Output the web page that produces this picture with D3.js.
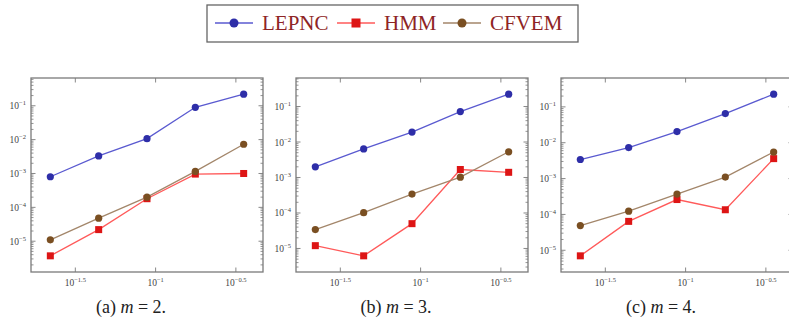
<!DOCTYPE html>
<html>
  <head>
    <meta charset="utf-8">
    <title>Convergence</title>
    <style>
      body { margin: 0; background: #fff; }
      text { font-family: "Liberation Serif", "DejaVu Serif", serif; }
    </style>
  </head>
  <body>
    <svg class="chart"></svg>
    <script src="https://cdn.jsdelivr.net/npm/d3@7"></script>
    <script>

// mesh sizes h (x axis, shared by all panels)
var hValues = [0.0221, 0.0442, 0.0884, 0.1768, 0.3536]

var methods = ["LEPNC", "HMM", "CFVEM"]

// errors, panel (a) m = 2
var lepncM2 = [8.0e-4, 3.3e-3, 1.07e-2, 9.0e-2, 2.2e-1]
var hmmM2   = [3.7e-6, 2.2e-5, 1.8e-4, 9.6e-4, 1.0e-3]
var cfvemM2 = [1.1e-5, 4.8e-5, 2.0e-4, 1.15e-3, 7.3e-3]

// panel (b) m = 3
var lepncM3 = [2.0e-3, 6.4e-3, 1.9e-2, 7.2e-2, 2.23e-1]
var hmmM3   = [1.2e-5, 6.2e-6, 5.0e-5, 1.68e-3, 1.4e-3]
var cfvemM3 = [3.4e-5, 1.02e-4, 3.4e-4, 1.02e-3, 5.3e-3]

// panel (c) m = 4
var lepncM4 = [3.4e-3, 7.3e-3, 2.05e-2, 6.5e-2, 2.26e-1]
var hmmM4   = [7.0e-6, 6.4e-5, 2.6e-4, 1.35e-4, 3.6e-3]
var cfvemM4 = [4.9e-5, 1.23e-4, 3.7e-4, 1.1e-3, 5.5e-3]

var panelLetters = ["(a)", "(b)", "(c)"]
var mValues = [2, 3, 4]

// tick exponents
var xTickExps = [-1.5, -1, -0.5]
var yTickExps = [-5, -4, -3, -2, -1]

var panels = [
    [lepncM2, hmmM2, cfvemM2],
    [lepncM3, hmmM3, cfvemM3],
    [lepncM4, hmmM4, cfvemM4]
]

var width = 789
var height = 329
var lineColors = ["#5a5ad0", "#ff5a5a", "#a3866a"]
var markColors = ["#2e2ea8", "#dd1515", "#7a4f22"]
var axisColor = "#7a7a7a"
var textColor = "#444"

var svg = d3.select(".chart")
    .attr("width", width)
    .attr("height", height)

var panelLeft = [31, 296, 561]
var panelWidth = 232
var plotTop = 78, plotBottom = 272

// pgfplots style: enlarge log range by 10% each side
function enlarged(vals) {
    var lo = Math.log10(d3.min(vals)), hi = Math.log10(d3.max(vals))
    var pad = (hi - lo) * 0.1
    return [Math.pow(10, lo - pad), Math.pow(10, hi + pad)]
}

function powLabel(sel, e) {
    sel.append("tspan").text("10")
    sel.append("tspan")
        .attr("dy", -4)
        .attr("font-size", 6.5)
        .text("\u2212" + Math.abs(e))
}

panels.forEach(function(series, p) {
    var x0 = panelLeft[p], x1 = x0 + panelWidth
    var allY = [].concat.apply([], series)

    var x = d3.scaleLog().domain(enlarged(hValues)).range([x0, x1])
    var y = d3.scaleLog().domain(enlarged(allY)).range([plotBottom, plotTop])

    var g = svg.append("g")

    // minor y ticks (2..9 within each decade)
    var minor = []
    var yd = y.domain()
    for (var e = Math.floor(Math.log10(yd[0])); e <= Math.ceil(Math.log10(yd[1])); e++) {
        for (var k = 2; k <= 9; k++) {
            var v = k * Math.pow(10, e)
            if (v > yd[0] && v < yd[1]) minor.push(v)
        }
    }
    g.selectAll(".minor").data(minor).enter().append("path")
        .attr("d", function(d) {
            var yy = y(d)
            return "M" + x0 + "," + yy + "h2.5M" + x1 + "," + yy + "h-2.5"
        })
        .attr("stroke", axisColor).attr("stroke-width", 0.8)

    // major y ticks
    g.selectAll(".ymaj").data(yTickExps).enter().append("path")
        .attr("d", function(d) {
            var yy = y(Math.pow(10, d))
            return "M" + x0 + "," + yy + "h4.5M" + x1 + "," + yy + "h-4.5"
        })
        .attr("stroke", axisColor).attr("stroke-width", 0.9)

    // major x ticks
    g.selectAll(".xmaj").data(xTickExps).enter().append("path")
        .attr("d", function(d) {
            var xx = x(Math.pow(10, d))
            return "M" + xx + "," + plotBottom + "v-4.5M" + xx + "," + plotTop + "v4.5"
        })
        .attr("stroke", axisColor).attr("stroke-width", 0.9)

    // frame
    g.append("rect")
        .attr("x", x0).attr("y", plotTop)
        .attr("width", panelWidth).attr("height", plotBottom - plotTop)
        .attr("fill", "none")
        .attr("stroke", axisColor).attr("stroke-width", 1.3)

    // y tick labels
    g.selectAll(".ylab").data(yTickExps).enter().append("text")
        .attr("x", x0 - 5)
        .attr("y", function(d) { return y(Math.pow(10, d)) + 3.5 })
        .attr("text-anchor", "end")
        .attr("font-size", 9.5)
        .attr("fill", textColor)
        .each(function(d) { powLabel(d3.select(this), d) })

    // x tick labels
    g.selectAll(".xlab").data(xTickExps).enter().append("text")
        .attr("x", function(d) { return x(Math.pow(10, d)) })
        .attr("y", plotBottom + 14)
        .attr("text-anchor", "middle")
        .attr("font-size", 9.5)
        .attr("fill", textColor)
        .each(function(d) { powLabel(d3.select(this), d) })

    // series lines and markers
    var line = d3.line()
        .x(function(d, i) { return x(hValues[i]) })
        .y(function(d) { return y(d) })

    series.forEach(function(vals, s) {
        g.append("path")
            .datum(vals)
            .attr("d", line)
            .attr("fill", "none")
            .attr("stroke", lineColors[s])
            .attr("stroke-width", 1.3)

        var pts = g.selectAll(".pt" + s).data(vals).enter()
        if (s == 1) {
            pts.append("rect")
                .attr("x", function(d, i) { return x(hValues[i]) - 3.5 })
                .attr("y", function(d) { return y(d) - 3.5 })
                .attr("width", 7).attr("height", 7)
                .attr("fill", markColors[s])
        } else {
            pts.append("circle")
                .attr("cx", function(d, i) { return x(hValues[i]) })
                .attr("cy", function(d) { return y(d) })
                .attr("r", 3.6)
                .attr("fill", markColors[s])
        }
    })

    // caption
    var cap = svg.append("text")
        .attr("x", (x0 + x1) / 2 - 16)
        .attr("y", 313)
        .attr("text-anchor", "middle")
        .attr("font-size", 18)
        .attr("fill", "#222")
    cap.append("tspan").text(panelLetters[p] + " ")
    cap.append("tspan").attr("font-style", "italic").text("m")
    cap.append("tspan").text(" = " + mValues[p] + ".")
})

// legend
var legend = svg.append("g")
legend.append("rect")
    .attr("x", 207).attr("y", 5)
    .attr("width", 371).attr("height", 37)
    .attr("fill", "#fff")
    .attr("stroke", "#666").attr("stroke-width", 1.3)

var legendX = [215, 337, 443]
methods.forEach(function(name, s) {
    var lx = legendX[s]
    legend.append("line")
        .attr("x1", lx).attr("x2", lx + 38)
        .attr("y1", 23).attr("y2", 23)
        .attr("stroke", lineColors[s]).attr("stroke-width", 1.3)
    if (s == 1) {
        legend.append("rect")
            .attr("x", lx + 19 - 4.5).attr("y", 23 - 4.5)
            .attr("width", 9).attr("height", 9)
            .attr("fill", markColors[s])
    } else {
        legend.append("circle")
            .attr("cx", lx + 19).attr("cy", 23).attr("r", 4.5)
            .attr("fill", markColors[s])
    }
    legend.append("text")
        .attr("x", lx + 47).attr("y", 30)
        .attr("font-size", 21)
        .attr("fill", "#8e2424")
        .text(name)
})

    </script>
  </body>
</html>
